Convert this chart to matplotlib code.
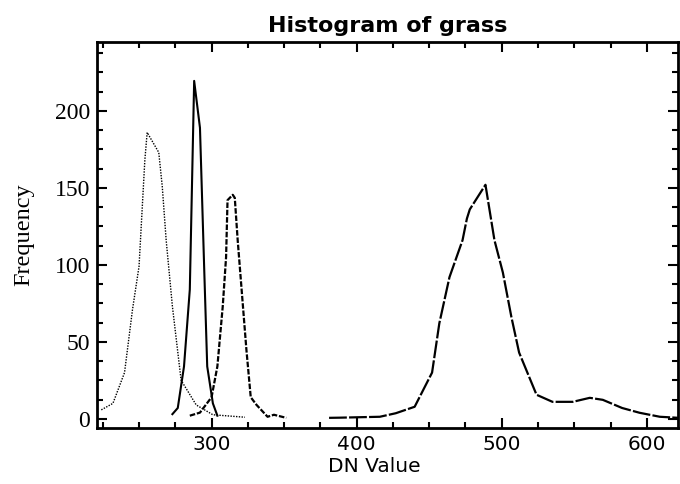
import matplotlib
matplotlib.use("Agg")
import matplotlib.pyplot as plt
from matplotlib.ticker import MultipleLocator

# Band 1 (dotted)
b1_x = [224, 232, 240, 245.5, 250, 254, 255.6, 263.6, 266, 268.7, 273, 279, 289.4, 300.9, 323]
b1_y = [5.8, 10, 30, 71, 99, 168, 186, 173, 151, 116, 73, 25, 9, 2.6, 1]
# Band 2 (solid, sharp)
b2_x = [273, 276.7, 281, 285, 288, 292, 295, 297, 300.9, 304]
b2_y = [3, 7, 34, 84, 219.5, 189, 95, 34, 10, 2]
# Band 3 (dashed)
b3_x = [285, 292, 300, 304, 307.7, 310, 311, 314.6, 316, 318, 324, 327, 331, 338.6, 343, 351.5]
b3_y = [2, 4, 14, 34, 73, 105, 142, 145.5, 143.5, 116, 45, 14, 9, 1.3, 2.6, 0.6]
# Band 4 (long dashed)
b4_x = [381, 388, 416, 427, 440, 452, 457, 464, 473, 476, 478, 488.8, 495, 500.8, 506.7, 512,
        524, 535, 549, 560.7, 569.7, 583, 595, 609, 622]
b4_y = [0.6, 0.7, 1.3, 3.6, 7.8, 30, 62, 92, 116, 130, 136, 152, 116, 95, 66, 43,
        15.6, 11, 11, 13.6, 12.3, 7, 3.9, 1.3, 0.6]

fig = plt.figure(figsize=(6.8, 4.84), dpi=100)
ax = fig.add_axes([0.1426, 0.1157, 0.8544, 0.7983])

ax.plot(b1_x, b1_y, color="black", lw=1.0, linestyle=(0, (1, 1)))
ax.plot(b2_x, b2_y, color="black", lw=1.5, linestyle="-")
ax.plot(b3_x, b3_y, color="black", lw=1.6, linestyle=(0, (2.5, 0.8)))
ax.plot(b4_x, b4_y, color="black", lw=1.6, linestyle=(0, (8, 1)))

ax.set_xlim(221, 621.5)
ax.set_ylim(-6, 245)
ax.xaxis.set_major_locator(MultipleLocator(100))
ax.xaxis.set_minor_locator(MultipleLocator(25))
ax.yaxis.set_major_locator(MultipleLocator(50))
ax.yaxis.set_minor_locator(MultipleLocator(12.5))
ax.tick_params(which="both", direction="in", top=True, right=True, width=1.5, color="black")
ax.tick_params(which="major", length=7)
ax.tick_params(which="minor", length=4)
for s in ax.spines.values():
    s.set_linewidth(2)

for lab in ax.get_yticklabels():
    lab.set_fontfamily("Liberation Serif")
    lab.set_fontsize(17)
for lab in ax.get_xticklabels():
    lab.set_fontfamily("DejaVu Sans")
    lab.set_fontsize(14.5)
ax.tick_params(axis="x", pad=5)
ax.tick_params(axis="y", pad=5)

ax.set_title("Histogram of grass", fontsize=16, fontweight="bold",
             fontfamily="DejaVu Sans", pad=7)
ax.set_xlabel("DN Value", fontsize=14.5, fontfamily="DejaVu Sans", labelpad=0)
ax.xaxis.set_label_coords(0.477, -0.075)
ax.set_ylabel("Frequency", fontsize=17.5, fontfamily="Liberation Serif", labelpad=15)

fig.savefig("out.png", dpi=100)
